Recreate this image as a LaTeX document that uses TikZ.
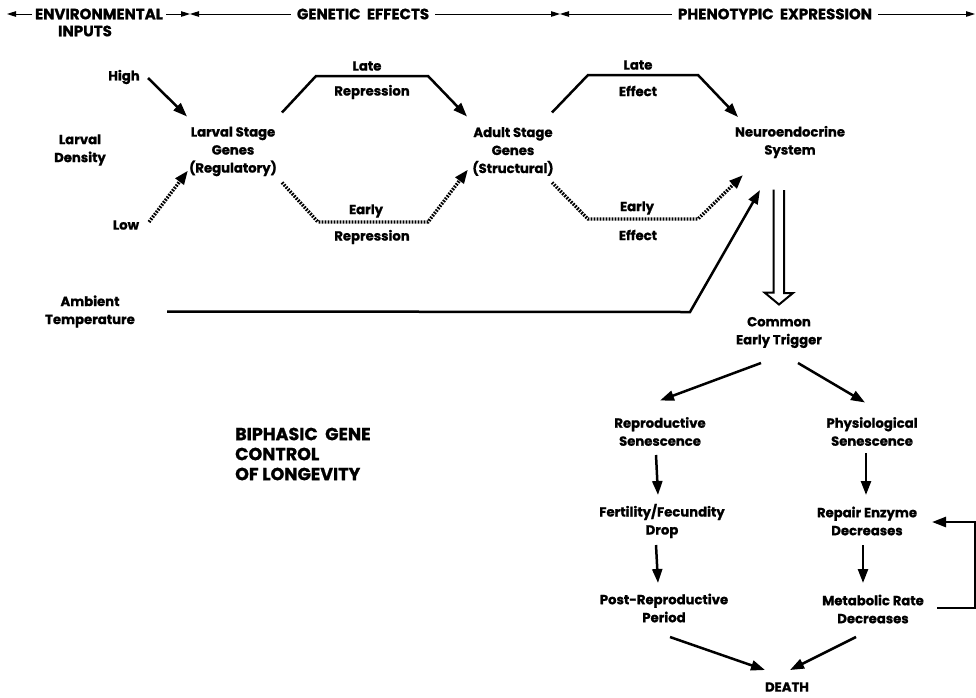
\documentclass[tikz,border=0pt]{standalone}
\usepackage{fontspec}
\setmainfont{Poppins}[BoldFeatures={FakeBold=1}]
\usetikzlibrary{arrows.meta}
\begin{document}
\begin{tikzpicture}[x=1pt,y=-1pt,
 lbl/.style={font=\bfseries\fontsize{13.2}{18}\selectfont, align=center, inner sep=0pt},
 hdr/.style={font=\bfseries\fontsize{15}{17}\selectfont, inner sep=0pt},
 big/.style={font=\bfseries\fontsize{17.5}{20}\selectfont, inner sep=0pt, align=left},
 arr/.style={line width=2.5pt, -{Triangle[length=14pt,width=10pt]}},
 dotarr/.style={line width=3.4pt, dash pattern=on 1.7pt off 1.3pt, -{Triangle[length=14pt,width=10pt]}},
 harr/.style={line width=1pt, -{Triangle[length=9pt,width=5.5pt]}},
 hollow/.style={line width=2pt, line join=miter},
]
\useasboundingbox (0,0) rectangle (976,697);
% header
\node[hdr] (envA) at (99,14) {ENVIRONMENTAL};
\node[hdr] (envB) at (85,31) {INPUTS};
\node[hdr] (gen) at (363,14) {GENETIC\ \ EFFECTS};
\node[hdr] (phe) at (775,14) {PHENOTYPIC\ \ EXPRESSION};
\coordinate (envL) at (7,14);
\coordinate (m1) at (190,14);
\coordinate (m2) at (560,14);
\coordinate (pR) at (975,14);
\draw[harr] ([xshift=-3]envA.west) -- (envL);
\draw[harr] ([xshift=3]envA.east) -- (m1);
\draw[harr] ([xshift=-6]gen.west) -- (m1);
\draw[harr] ([xshift=6]gen.east) -- (m2);
\draw[harr] ([xshift=-6]phe.west) -- (m2);
\draw[harr] ([xshift=6]phe.east) -- (pR);
% left inputs
\node[lbl] (high) at (124,77) {High};
\node[lbl] (dens) at (80,150) {Larval\\Density};
\node[lbl] (low) at (126,225) {Low};
\node[lbl] (amb) at (90,311.5) {Ambient\\Temperature};
% gene nodes
\node[lbl] (larv) at (233,151.5) {Larval Stage\\Genes\\(Regulatory)};
\node[lbl] (adult) at (513,151.5) {Adult Stage\\Genes\\(Structural)};
\node[lbl] (neuro) at (790,142) {Neuroendocrine\\System};
% path labels
\node[lbl] (lateR) at (367,66) {Late};
\node[lbl] (repA) at (372,92) {Repression};
\node[lbl] (earlyR) at (366,211) {Early};
\node[lbl] (repB) at (372,237) {Repression};
\node[lbl] (lateE) at (638,65) {Late};
\node[lbl] (effA) at (638,91) {Effect};
\node[lbl] (earlyE) at (637,208) {Early};
\node[lbl] (effB) at (638,235) {Effect};
% connectors upper part
\draw[arr] ([shift={(24,1)}]high.center) -- ([shift={(-46,-35)}]larv.center);
\draw[dotarr] ([shift={(23,-3)}]low.center) -- ([shift={(-45,19)}]larv.center);
\draw[arr] ([shift={(49,-39)}]larv.center) -- ([shift={(-51,10)}]lateR.center) -- ([shift={(61,10)}]lateR.center) -- ([shift={(-46,-35)}]adult.center);
\draw[dotarr] ([shift={(49,31)}]larv.center) -- ([shift={(-48,11)}]earlyR.center) -- ([shift={(62,11)}]earlyR.center) -- ([shift={(-45,18)}]adult.center);
\draw[arr] ([shift={(39,-39)}]adult.center) -- ([shift={(-50,10)}]lateE.center) -- ([shift={(60,10)}]lateE.center) -- ([shift={(-52,-25)}]neuro.center);
\draw[dotarr] ([shift={(39,31)}]adult.center) -- ([shift={(-49,11)}]earlyE.center) -- ([shift={(61,11)}]earlyE.center) -- ([shift={(-47,33)}]neuro.center);
\draw[arr] ([xshift=77]amb.center) -- (690,312) -- ([shift={(-30,48)}]neuro.center);
% hollow double arrow
\node[lbl] (trig) at (779,332.5) {Common\\Early Trigger};
\draw[hollow] ([shift={(-6,48)}]neuro.center) -- ++(0,103) -- ++(9,0) -- ([shift={(0,-28)}]trig.center) -- ++(-14.5,-12) -- ++(9,0) -- ++(0,-103);
% lower part
\node[lbl] (repro) at (660,431.5) {Reproductive\\Senescence};
\node[lbl] (phys) at (872,431.5) {Physiological\\Senescence};
\node[lbl] (fert) at (662,521) {Fertility/Fecundity\\Drop};
\node[lbl] (post) at (664,608) {Post-Reproductive\\Period};
\node[lbl] (repair) at (867,521) {Repair Enzyme\\Decreases};
\node[lbl] (metab) at (873,609) {Metabolic Rate\\Decreases};
\node[lbl] (death) at (787,687) {DEATH};
\node[big, anchor=west] (bip) at (235,454) {BIPHASIC\ \ GENE\\CONTROL\\OF LONGEVITY};
\draw[arr] ([shift={(-18,30.5)}]trig.center) -- ([shift={(0,-31)}]repro.center);
\draw[arr] ([shift={(19,30.5)}]trig.center) -- ([shift={(-7,-29)}]phys.center);
\draw[arr] ([shift={(-4,23.5)}]repro.center) -- ([shift={(-4,-26)}]fert.center);
\draw[arr] ([shift={(-6,24)}]fert.center) -- ([shift={(-6,-25)}]post.center);
\draw[arr] ([shift={(6,29)}]post.center) -- ([shift={(-22,-17)}]death.center);
\draw[arr] ([shift={(-6,21.5)}]phys.center) -- ([shift={(-1,-26)}]repair.center);
\draw[arr] ([shift={(-4,24)}]repair.center) -- ([shift={(-10,-26)}]metab.center);
\draw[arr] ([shift={(-17,28)}]metab.center) -- ([shift={(3,-17)}]death.center);
\draw[arr] ([shift={(64,-1)}]metab.center) -- ++(38,0) |- ([shift={(65,1)}]repair.center);
\end{tikzpicture}
\end{document}
